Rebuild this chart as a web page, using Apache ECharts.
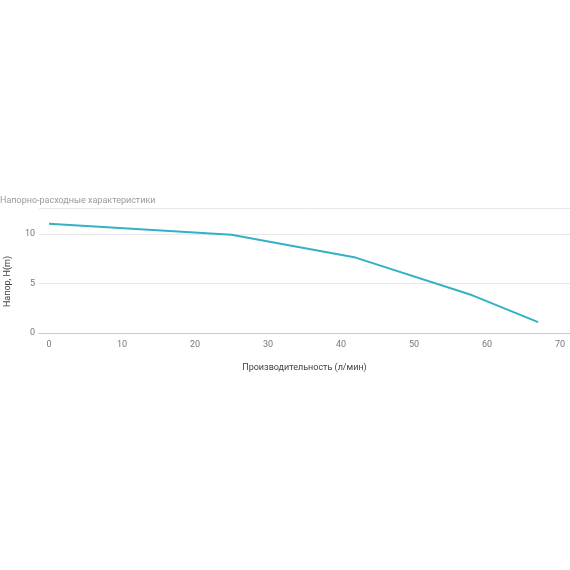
<!DOCTYPE html>
<html>
<head>
<meta charset="utf-8">
<script src="https://cdn.jsdelivr.net/npm/echarts@6/dist/echarts.min.js"></script>
<style>
  html, body { margin: 0; padding: 0; background: #fff; }
  #chart { width: 570px; height: 570px; }
</style>
</head>
<body>
<div id="chart"></div>
<script>
// данные кривой насоса
const flow = [0, 25, 42, 58, 67]          // л/мин
const head = [11.0, 9.9, 7.6, 3.8, 1.1]   // м
const xTicks = [0, 10, 20, 30, 40, 50, 60, 70]
const yTicks = [0, 5, 10]
const yTop = 12.6

const chart = echarts.init(document.getElementById('chart'))
const font = 'Roboto, "Noto Sans", sans-serif'

chart.setOption({
  animation: false,
  title: {
    text: 'Напорно-расходные характеристики',
    left: 0,
    top: 196,
    padding: 0,
    textStyle: { fontSize: 9, fontWeight: 'normal', color: '#9a9a9a', fontFamily: font }
  },
  grid: { left: 39, right: 0, top: 208, bottom: 237, outerBoundsMode: 'none' },
  xAxis: {
    type: 'value',
    min: -1.37,
    max: 71.37,
    name: 'Производительность (л/мин)',
    nameLocation: 'middle',
    nameGap: 30,
    nameTextStyle: { fontSize: 9, color: '#444', fontFamily: font },
    axisLine: { lineStyle: { color: '#c8c8c8' } },
    axisTick: { show: false, customValues: xTicks },
    axisLabel: { customValues: xTicks, color: '#777', fontSize: 9, margin: 7, fontFamily: font },
    splitLine: { show: false }
  },
  yAxis: {
    type: 'value',
    min: 0,
    max: yTop,
    name: 'Напор, H(m)',
    nameLocation: 'middle',
    nameGap: 27,
    nameTextStyle: { fontSize: 9, color: '#444', fontFamily: font, padding: [0, 22, 0, 0] },
    axisLine: { show: false },
    axisTick: { show: false, customValues: yTicks.concat([yTop]) },
    axisLabel: { customValues: yTicks, color: '#777', fontSize: 9, margin: 4, fontFamily: font },
    splitLine: { lineStyle: { color: '#e8e8e8' } }
  },
  series: [{
    type: 'line',
    data: flow.map((q, i) => [q, head[i]]),
    showSymbol: false,
    lineStyle: { color: '#33b1c6', width: 2 },
    itemStyle: { color: '#33b1c6' }
  }]
})
</script>
</body>
</html>
